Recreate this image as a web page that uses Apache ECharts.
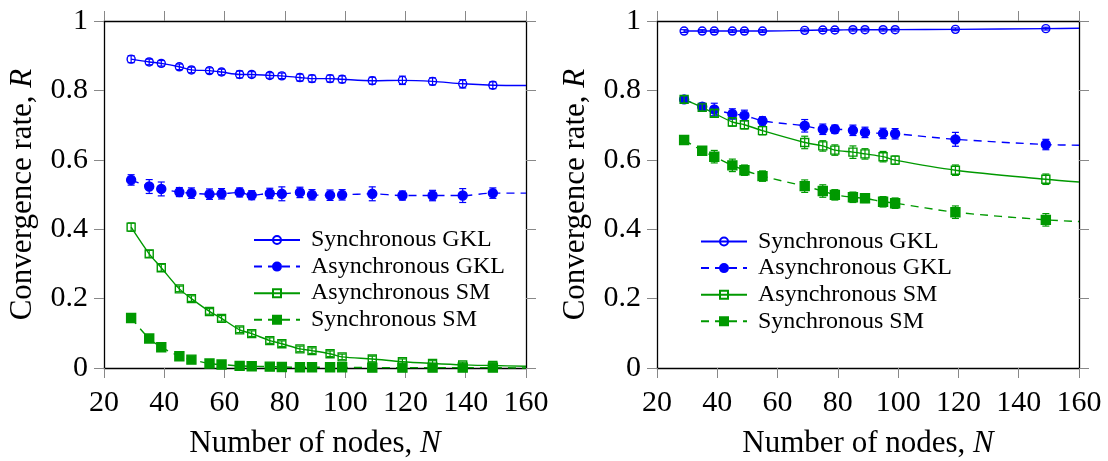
<!DOCTYPE html>
<html>
<head>
<meta charset="utf-8">
<script src="https://cdn.jsdelivr.net/npm/echarts@6/dist/echarts.min.js"></script>
<style>
html,body{margin:0;padding:0;background:#fff;}
#chart{width:1108px;height:461px;}
</style>
</head>
<body>
<div id="chart"></div>
<script>
// ---------------- data ----------------
const X_TICKS = [20, 40, 60, 80, 100, 120, 140, 160];
const Y_TICKS = [0, 0.2, 0.4, 0.6, 0.8, 1];
const SERIES_NAMES = ['Synchronous GKL', 'Asynchronous GKL', 'Asynchronous SM', 'Synchronous SM'];
const N_END = 160;

// left panel
const N_LEFT = [29, 35, 39, 45, 49, 55, 59, 65, 69, 75, 79, 85, 89, 95, 99, 109, 119, 129, 139, 149];
const L_SYNC_GKL  = [0.890, 0.882, 0.878, 0.868, 0.859, 0.857, 0.853, 0.846, 0.846, 0.843, 0.842, 0.837, 0.834, 0.834, 0.832, 0.828, 0.829, 0.826, 0.819, 0.815];
const L_SYNC_GKL_ERR = [0.010, 0.008, 0.008, 0.008, 0.008, 0.008, 0.008, 0.010, 0.008, 0.008, 0.008, 0.010, 0.010, 0.010, 0.010, 0.010, 0.012, 0.010, 0.012, 0.010];
const L_ASYNC_GKL = [0.542, 0.523, 0.516, 0.507, 0.504, 0.501, 0.502, 0.506, 0.498, 0.503, 0.502, 0.506, 0.499, 0.498, 0.499, 0.502, 0.497, 0.497, 0.497, 0.504];
const L_ASYNC_GKL_ERR = [0.015, 0.020, 0.020, 0.013, 0.015, 0.015, 0.015, 0.013, 0.013, 0.015, 0.020, 0.015, 0.015, 0.015, 0.015, 0.020, 0.013, 0.015, 0.020, 0.015];
const L_ASYNC_SM  = [0.406, 0.329, 0.289, 0.228, 0.200, 0.163, 0.143, 0.110, 0.099, 0.079, 0.070, 0.055, 0.050, 0.041, 0.032, 0.026, 0.018, 0.013, 0.009, 0.007];
const L_ASYNC_SM_ERR = [0.012, 0.010, 0.010, 0.008, 0.008, 0.008, 0.008, 0.008, 0.008, 0.008, 0.008, 0.008, 0.008, 0.008, 0.008, 0.008, 0.008, 0.008, 0.008, 0.008];
const L_SYNC_SM   = [0.144, 0.085, 0.060, 0.034, 0.024, 0.013, 0.010, 0.006, 0.005, 0.004, 0.003, 0.002, 0.002, 0.002, 0.002, 0.001, 0.001, 0.001, 0.001, 0.001];
const L_SYNC_SM_ERR = [0.008, 0.008, 0.008, 0.006, 0.006, 0.006, 0.006, 0.006, 0.006, 0.006, 0.006, 0.006, 0.006, 0.006, 0.006, 0.006, 0.006, 0.006, 0.006, 0.006];
const L_END = [0.814, 0.504, 0.005, 0.000];

// right panel
const N_RIGHT = [29, 35, 39, 45, 49, 55, 69, 75, 79, 85, 89, 95, 99, 119, 149];
const R_SYNC_GKL  = [0.971, 0.971, 0.971, 0.971, 0.971, 0.971, 0.973, 0.974, 0.974, 0.975, 0.975, 0.975, 0.975, 0.976, 0.978];
const R_SYNC_GKL_ERR = [0.004, 0.004, 0.004, 0.004, 0.004, 0.004, 0.004, 0.004, 0.004, 0.004, 0.004, 0.004, 0.004, 0.004, 0.004];
const R_ASYNC_GKL = [0.774, 0.753, 0.745, 0.732, 0.728, 0.712, 0.698, 0.688, 0.688, 0.685, 0.679, 0.676, 0.675, 0.659, 0.644];
const R_ASYNC_GKL_ERR = [0.008, 0.010, 0.018, 0.015, 0.015, 0.012, 0.018, 0.015, 0.012, 0.015, 0.015, 0.015, 0.015, 0.020, 0.015];
const R_ASYNC_SM  = [0.774, 0.751, 0.734, 0.709, 0.701, 0.684, 0.650, 0.640, 0.628, 0.622, 0.617, 0.609, 0.599, 0.570, 0.544];
const R_ASYNC_SM_ERR = [0.010, 0.010, 0.010, 0.012, 0.012, 0.012, 0.018, 0.015, 0.015, 0.018, 0.015, 0.015, 0.012, 0.015, 0.015];
const R_SYNC_SM   = [0.657, 0.626, 0.609, 0.584, 0.570, 0.553, 0.524, 0.510, 0.499, 0.492, 0.489, 0.479, 0.475, 0.449, 0.427];
const R_SYNC_SM_ERR = [0.010, 0.012, 0.018, 0.018, 0.015, 0.015, 0.018, 0.018, 0.015, 0.015, 0.012, 0.015, 0.015, 0.018, 0.018];
const R_END = [0.979, 0.642, 0.536, 0.422];

// ---------------- styling ----------------
const FONT = '"Liberation Serif", "DejaVu Serif", serif';
const BLUE = '#0000ff';
const GREEN = '#009900';
const STYLES = [
  { color: BLUE,  dash: 'solid', symbol: 'circle', filled: false, size: 8 },
  { color: BLUE,  dash: [8, 6],  symbol: 'circle', filled: true,  size: 9 },
  { color: GREEN, dash: 'solid', symbol: 'rect',   filled: false, size: 8 },
  { color: GREEN, dash: [8, 6],  symbol: 'rect',   filled: true,  size: 9 }
];

const chart = echarts.init(document.getElementById('chart'), null, { renderer: 'canvas' });

function lineSeries(idx, gi, ns, vals, endVal) {
  const s = STYLES[idx];
  const data = ns.map((n, i) => [n, vals[i]]);
  data.push({ value: [N_END, endVal], symbol: 'none' });
  return {
    type: 'line',
    name: SERIES_NAMES[idx],
    xAxisIndex: gi * 2,
    yAxisIndex: gi * 2,
    data: data,
    smooth: 0.3,
    symbol: s.symbol,
    symbolSize: s.size,
    showAllSymbol: true,
    clip: false,
    lineStyle: { color: s.color, width: 1.4, type: s.dash },
    itemStyle: {
      color: s.filled ? s.color : 'rgba(255,255,255,0)',
      borderColor: s.color,
      borderWidth: 1.4
    },
    emphasis: { disabled: true },
    z: 3
  };
}

function errSeries(idx, gi, ns, vals, errs) {
  const s = STYLES[idx];
  return {
    type: 'custom',
    xAxisIndex: gi * 2,
    yAxisIndex: gi * 2,
    data: ns.map((n, i) => [n, vals[i] - errs[i], vals[i] + errs[i]]),
    encode: { x: 0, y: [1, 2] },
    clip: false,
    silent: true,
    z: 4,
    renderItem: function (params, api) {
      const x = api.value(0);
      const p1 = api.coord([x, api.value(2)]);
      const p2 = api.coord([x, api.value(1)]);
      const w = 3.5;
      const st = { stroke: s.color, lineWidth: 1.2 };
      return {
        type: 'group',
        children: [
          { type: 'line', shape: { x1: p1[0], y1: p1[1], x2: p2[0], y2: p2[1] }, style: st },
          { type: 'line', shape: { x1: p1[0] - w, y1: p1[1], x2: p1[0] + w, y2: p1[1] }, style: st },
          { type: 'line', shape: { x1: p2[0] - w, y1: p2[1], x2: p2[0] + w, y2: p2[1] }, style: st }
        ]
      };
    }
  };
}

const axisLine = { show: true, onZero: false, lineStyle: { color: '#000', width: 1.3 } };
const axisTick = { show: true, inside: false, length: 10, lineStyle: { color: '#888', width: 1 } };
const labelStyle = { fontFamily: FONT, fontSize: 30, color: '#000' };
const nameStyle = {
  fontFamily: FONT, fontSize: 31, color: '#000',
  rich: { i: { fontFamily: FONT, fontSize: 31, fontStyle: 'italic', color: '#000' } }
};

function xAxes(gi) {
  return [
    {
      gridIndex: gi, type: 'value', position: 'bottom',
      min: X_TICKS[0], max: X_TICKS[X_TICKS.length - 1], interval: X_TICKS[1] - X_TICKS[0],
      axisLine, axisTick, splitLine: { show: false },
      axisLabel: Object.assign({ margin: 20 }, labelStyle),
      name: 'Number of nodes, {i|N}', nameLocation: 'middle', nameGap: 60,
      nameTextStyle: nameStyle
    },
    {
      gridIndex: gi, type: 'value', position: 'top',
      min: X_TICKS[0], max: X_TICKS[X_TICKS.length - 1], interval: X_TICKS[1] - X_TICKS[0],
      axisLine, axisTick, splitLine: { show: false }, axisLabel: { show: false }
    }
  ];
}
function yAxes(gi) {
  return [
    {
      gridIndex: gi, type: 'value', position: 'left',
      min: Y_TICKS[0], max: Y_TICKS[Y_TICKS.length - 1], interval: Y_TICKS[1] - Y_TICKS[0],
      axisLine, axisTick, splitLine: { show: false },
      axisLabel: Object.assign({ margin: 16 }, labelStyle),
      name: 'Convergence rate, {i|R}', nameLocation: 'middle', nameGap: 66,
      nameTextStyle: nameStyle
    },
    {
      gridIndex: gi, type: 'value', position: 'right',
      min: Y_TICKS[0], max: Y_TICKS[Y_TICKS.length - 1], interval: Y_TICKS[1] - Y_TICKS[0],
      axisLine, axisTick, splitLine: { show: false }, axisLabel: { show: false }
    }
  ];
}

const legendBase = {
  orient: 'vertical',
  padding: 0,
  itemWidth: 46,
  itemHeight: 10,
  itemGap: 2.6,
  selectedMode: false,
  data: SERIES_NAMES,
  textStyle: { fontFamily: FONT, fontSize: 24, color: '#000', padding: [0, 0, 0, 6] }
};

const series = [
  lineSeries(0, 0, N_LEFT, L_SYNC_GKL, L_END[0]),
  lineSeries(1, 0, N_LEFT, L_ASYNC_GKL, L_END[1]),
  lineSeries(2, 0, N_LEFT, L_ASYNC_SM, L_END[2]),
  lineSeries(3, 0, N_LEFT, L_SYNC_SM, L_END[3]),
  errSeries(0, 0, N_LEFT, L_SYNC_GKL, L_SYNC_GKL_ERR),
  errSeries(1, 0, N_LEFT, L_ASYNC_GKL, L_ASYNC_GKL_ERR),
  errSeries(2, 0, N_LEFT, L_ASYNC_SM, L_ASYNC_SM_ERR),
  errSeries(3, 0, N_LEFT, L_SYNC_SM, L_SYNC_SM_ERR),
  lineSeries(0, 1, N_RIGHT, R_SYNC_GKL, R_END[0]),
  lineSeries(1, 1, N_RIGHT, R_ASYNC_GKL, R_END[1]),
  lineSeries(2, 1, N_RIGHT, R_ASYNC_SM, R_END[2]),
  lineSeries(3, 1, N_RIGHT, R_SYNC_SM, R_END[3]),
  errSeries(0, 1, N_RIGHT, R_SYNC_GKL, R_SYNC_GKL_ERR),
  errSeries(1, 1, N_RIGHT, R_ASYNC_GKL, R_ASYNC_GKL_ERR),
  errSeries(2, 1, N_RIGHT, R_ASYNC_SM, R_ASYNC_SM_ERR),
  errSeries(3, 1, N_RIGHT, R_SYNC_SM, R_SYNC_SM_ERR)
];

chart.setOption({
  animation: false,
  backgroundColor: '#fff',
  grid: [
    { left: 104, top: 21, width: 422, height: 347, containLabel: false, outerBoundsMode: 'none' },
    { left: 657, top: 21, width: 422, height: 347, containLabel: false, outerBoundsMode: 'none' }
  ],
  xAxis: xAxes(0).concat(xAxes(1)),
  yAxis: yAxes(0).concat(yAxes(1)),
  legend: [
    Object.assign({ left: 253, top: 228 }, legendBase),
    Object.assign({ left: 700, top: 229.5 }, legendBase)
  ],
  series: series
});
</script>
</body>
</html>
